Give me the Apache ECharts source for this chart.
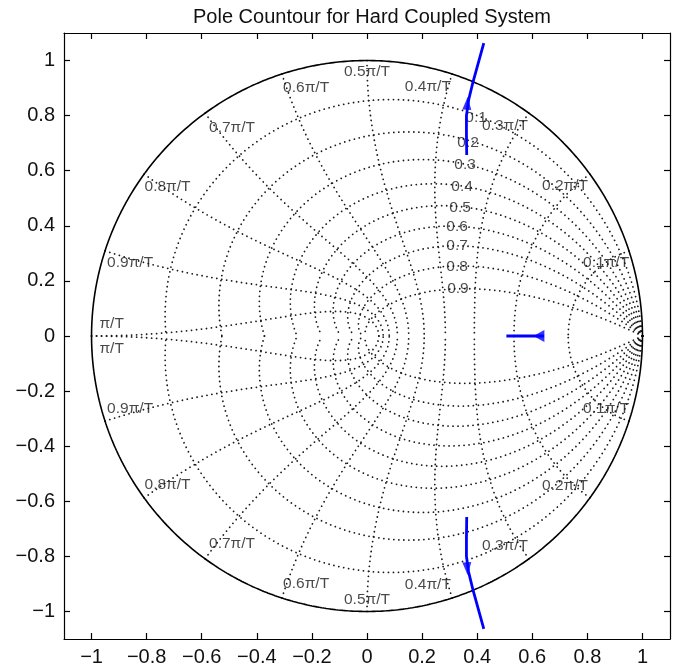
<!DOCTYPE html>
<html><head><meta charset="utf-8">
<script src="https://cdn.jsdelivr.net/npm/echarts@6/dist/echarts.min.js"></script>
<style>html,body{margin:0;padding:0;background:#fff}#c{width:683px;height:670px}</style>
</head><body><div id="c"></div>
<script>
const titleText = 'Pole Countour for Hard Coupled System';
const axisTicks = [-1, -0.8, -0.6, -0.4, -0.2, 0, 0.2, 0.4, 0.6, 0.8, 1];
const zetaValues = [0.1, 0.2, 0.3, 0.4, 0.5, 0.6, 0.7, 0.8, 0.9];
const wnFractions = [0.1, 0.2, 0.3, 0.4, 0.5, 0.6, 0.7, 0.8, 0.9, 1.0];
const zetaLabelText = ['0.1', '0.2', '0.3', '0.4', '0.5', '0.6', '0.7', '0.8', '0.9'];
const zetaLabelX = [0.396, 0.367, 0.356, 0.345, 0.338, 0.327, 0.327, 0.327, 0.330];
const zetaLabelY = [0.791, 0.700, 0.621, 0.541, 0.465, 0.396, 0.327, 0.250, 0.171];
const wnLabelText = ['0.1\u03c0/T', '0.2\u03c0/T', '0.3\u03c0/T', '0.4\u03c0/T', '0.5\u03c0/T', '0.6\u03c0/T', '0.7\u03c0/T', '0.8\u03c0/T', '0.9\u03c0/T', '\u03c0/T'];
const wnLabelX = [0.868, 0.719, 0.501, 0.221, 0.0, -0.221, -0.490, -0.724, -0.860, -0.927];
const wnLabelYUpper = [0.265, 0.544, 0.762, 0.904, 0.958, 0.900, 0.755, 0.541, 0.265, 0.043];
const wnLabelYLower = [-0.265, -0.544, -0.762, -0.904, -0.958, -0.900, -0.755, -0.541, -0.265, -0.047];
const upperBranchX = [0.362, 0.361, 0.361, 0.369, 0.385, 0.424];
const upperBranchY = [0.657, 0.737, 0.800, 0.857, 0.923, 1.063];
const lowerBranchX = [0.362, 0.361, 0.361, 0.369, 0.385, 0.424];
const lowerBranchY = [-0.657, -0.737, -0.800, -0.857, -0.923, -1.063];
const realBranchX = [0.643, 0.506];
const realBranchY = [0.0, 0.0];
const arrowX = [0.364, 0.364, 0.624];
const arrowY = [0.845, -0.845, 0.0];

const FONT = 'Liberation Sans';
const zip = (xs, ys) => xs.map((x, i) => [x, ys[i]]);

// z-plane grid (zgrid) curves
function dampingCurve(zeta, sign) {
  const m = zeta / Math.sqrt(1 - zeta * zeta);
  const pts = [];
  const N = 240;
  for (let i = 0; i <= N; i++) {
    const th = Math.PI * i / N;
    const r = Math.exp(-m * th);
    pts.push([r * Math.cos(th), sign * r * Math.sin(th)]);
  }
  return pts;
}
function freqCurve(frac, sign) {
  const wn = frac * Math.PI;
  const pts = [];
  const N = 160;
  for (let i = 0; i <= N; i++) {
    const z = i / N;
    const r = Math.exp(-wn * z);
    const a = wn * Math.sqrt(1 - z * z);
    pts.push([r * Math.cos(a), sign * r * Math.sin(a)]);
  }
  return pts;
}
const circle = [];
for (let i = 0; i <= 720; i++) { const a = 2 * Math.PI * i / 720; circle.push([Math.cos(a), Math.sin(a)]); }

const dotStyle = { color: '#1a1a1a', width: 1.8, type: [0.01, 5], cap: 'round' };
const series = [];
zetaValues.forEach(z => [1, -1].forEach(s => series.push({
  type: 'line', data: dampingCurve(z, s), showSymbol: false, silent: true, z: 2,
  lineStyle: dotStyle
})));
wnFractions.forEach(f => [1, -1].forEach(s => series.push({
  type: 'line', data: freqCurve(f, s), showSymbol: false, silent: true, z: 2,
  lineStyle: dotStyle
})));
series.push({ type: 'line', data: circle, showSymbol: false, silent: true, z: 3,
  lineStyle: { color: '#000', width: 1.6 } });

const labelData = [];
zetaLabelText.forEach((t, i) => labelData.push({ value: [zetaLabelX[i], zetaLabelY[i]], name: t }));
wnLabelText.forEach((t, i) => {
  labelData.push({ value: [wnLabelX[i], wnLabelYUpper[i]], name: t });
  labelData.push({ value: [wnLabelX[i], wnLabelYLower[i]], name: t });
});
series.push({ type: 'scatter', data: labelData, symbolSize: 1, silent: true, z: 4,
  itemStyle: { color: 'rgba(0,0,0,0)' },
  label: { show: true, position: 'inside', formatter: '{b}', color: '#1a1a1a', fontSize: 15.5, fontFamily: FONT }
});

const blue = { color: '#0000ff', width: 2.8 };
[zip(upperBranchX, upperBranchY), zip(lowerBranchX, lowerBranchY), zip(realBranchX, realBranchY)].forEach(d =>
  series.push({ type: 'line', data: d, showSymbol: false, silent: true, z: 6, lineStyle: blue }));
const arrowRot = [-4, 184, 90];
const arrowSize = [[9, 13], [9, 13], [12, 11]];
series.push({ type: 'scatter', silent: true, z: 7,
  data: arrowX.map((x, i) => ({ value: [x, arrowY[i]], symbolRotate: arrowRot[i], symbolSize: arrowSize[i] })),
  symbol: 'triangle', itemStyle: { color: '#0000ff' } });

const fmt = v => String(v).replace('-', '\u2212');
const axisCommon = {
  type: 'value', min: -1.1, max: 1.1,
  axisLine: { show: true, onZero: false, lineStyle: { color: '#000', width: 1.2 } },
  splitLine: { show: false },
  axisTick: { show: true, inside: true, length: 6, customValues: axisTicks, lineStyle: { color: '#000', width: 1.2 } }
};
const chart = echarts.init(document.getElementById('c'), null, { renderer: 'canvas' });
chart.setOption({
  animation: false,
  backgroundColor: '#fff',
  title: { text: titleText, left: 367, top: 2, textAlign: 'center',
    textStyle: { fontFamily: FONT, fontSize: 20, fontWeight: 'normal', color: '#111' } },
  grid: { left: 64, top: 33, width: 606, height: 606 },
  xAxis: [
    Object.assign({}, axisCommon, { position: 'bottom',
      axisLabel: { show: true, customValues: axisTicks, formatter: fmt, margin: 8, fontSize: 20, fontFamily: FONT, color: '#111' } }),
    Object.assign({}, axisCommon, { position: 'top', axisLabel: { show: false } })
  ],
  yAxis: [
    Object.assign({}, axisCommon, { position: 'left',
      axisLabel: { show: true, customValues: axisTicks, formatter: fmt, margin: 9, fontSize: 20, fontFamily: FONT, color: '#111' } }),
    Object.assign({}, axisCommon, { position: 'right', axisLabel: { show: false } })
  ],
  series: series
});
</script></body></html>
